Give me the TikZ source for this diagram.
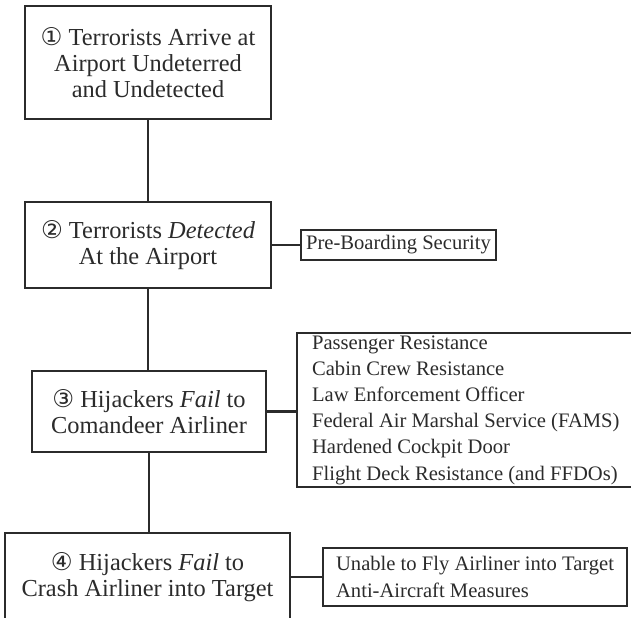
\documentclass[tikz,border=0pt]{standalone}
\usepackage{fontspec}
\setmainfont{Liberation Serif}
\newfontfamily\circfont{DejaVu Sans}
\definecolor{ttqqdd}{rgb}{0.17,0.17,0.17}

\tikzset{
    stage/.style={draw=ttqqdd, line width=1.1pt, align=center, inner sep=0pt, text=ttqqdd,
        font=\fontsize{12.2}{13}\selectfont},
    counter/.style={draw=ttqqdd, line width=1.1pt, align=left, inner ysep=0pt, text=ttqqdd,
        font=\fontsize{10.3}{13.1}\selectfont},
    link/.style={draw=ttqqdd, line width=1.1pt}
}

\begin{document}
\begin{tikzpicture}[x=0.5pt, y=-0.5pt]
    \useasboundingbox (0,0) rectangle (631,617);
    \clip (0,0) rectangle (631,617);
    % stages down the left
    \node[stage, minimum width=123pt, minimum height=56.5pt] (arrive) at (148,62.5)
        {{\circfont ①} Terrorists Arrive at\\Airport Undeterred\\and Undetected};
    \node[stage, minimum width=123pt, minimum height=43pt] (detect) at (148,245)
        {{\circfont ②} Terrorists \textit{Detected}\\At the Airport};
    \node[stage, minimum width=117pt, minimum height=40.5pt] (seize) at (149,411.5)
        {{\circfont ③} Hijackers \textit{Fail} to\\Comandeer Airliner};
    \node[stage, minimum width=142.5pt, minimum height=44pt] (crash) at (147.5,577)
        {{\circfont ④} Hijackers \textit{Fail} to\\Crash Airliner into Target};
    % countermeasures on the right
    \node[counter, inner xsep=2.5pt, minimum width=95.5pt, minimum height=15pt] (preboard) at (398.5,245)
        {Pre-Boarding Security};
    \node[counter, anchor=west, inner xsep=7.5pt, minimum height=77pt] (onboard) at (296,410)
        {Passenger Resistance\\Cabin Crew Resistance\\Law Enforcement Officer\\Federal Air Marshal Service (FAMS)\\Hardened Cockpit Door\\Flight Deck Resistance (and FFDOs)};
    \node[counter, anchor=west, inner xsep=6.5pt, minimum height=29pt] (target) at (322,577)
        {Unable to Fly Airliner into Target\\Anti-Aircraft Measures};
    % connectors
    \draw[link] (arrive.south) -- (detect.north);
    \draw[link] (detect.south) -- (detect.south |- seize.north);
    \draw[link] (seize.south) -- (seize.south |- crash.north);
    \draw[link] (detect.east) -- (detect.east -| preboard.west);
    \draw[link] (seize.east) -- (seize.east -| onboard.west);
    \draw[link] (crash.east) -- (crash.east -| target.west);
\end{tikzpicture}
\end{document}
